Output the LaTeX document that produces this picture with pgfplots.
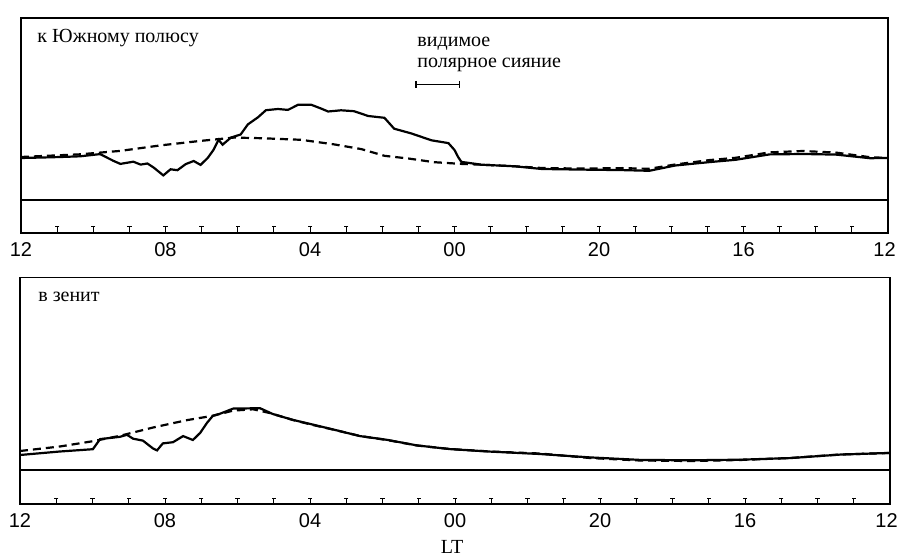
\documentclass[border=0pt]{standalone}
\usepackage{fontspec}
\setmainfont{Liberation Serif}
\newfontfamily\ticksans{Liberation Sans}
\usepackage{pgfplots}
\pgfplotsset{compat=1.18}
\begin{document}
\begin{tikzpicture}
\useasboundingbox (0pt,0pt) rectangle (899pt,557pt);
\pgfplotsset{
  panel/.style={
    scale only axis, xmin=0, xmax=24, clip=false,
    axis line style={line width=1.3pt},
    ytick=\empty,
    xtick={0,4,...,24}, xticklabels={12,08,04,00,20,16,\hspace*{-7pt}12},
    minor xtick={1,...,23},
    tick align=inside, xtick pos=bottom,
    major tick length=6pt, minor tick length=6pt,
    tick style={line width=1pt, black},
    xticklabel style={font=\ticksans\fontsize{20}{24}\selectfont, anchor=center, yshift=-17pt},
  },
  solidc/.style={line width=2.2pt, black, no markers},
  dashc/.style={line width=2.2pt, black, no markers, dash pattern=on 8pt off 5pt},
  basec/.style={line width=1.2pt, black, no markers},
  capc/.style={only marks, mark=-, mark size=2.2pt, mark options={line width=1pt, black}},
}
% ---------- top panel ----------
\begin{axis}[panel, at={(21pt,324pt)}, anchor=south west, width=867pt, height=215pt, ymin=0, ymax=215]
\addplot[basec] coordinates {(0,33) (24,33)};
\addplot[capc] coordinates {(1,6) (2,6) (3,6) (4,6) (5,6) (6,6) (7,6) (8,6) (9,6) (10,6) (11,6) (12,6)
(13,6) (14,6) (15,6) (16,6) (17,6) (18,6) (19,6) (20,6) (21,6) (22,6) (23,6)};
\addplot[solidc] coordinates {
(0,75) (0.6,75.5) (1.1,76) (1.64,76.7) (2.19,78.9) (2.56,72.1) (2.75,69.1) (3.11,71.3)
(3.31,68.4) (3.5,69.5) (3.67,65.5) (3.94,57.6) (4.14,63.7) (4.33,62.8) (4.56,68.9)
(4.78,72) (4.97,68.1) (5.17,75.1) (5.33,83.2) (5.47,93.3) (5.58,88.3) (5.81,95.4)
(6.08,98.5) (6.28,108.6) (6.56,115.7) (6.78,122.8) (7.11,124) (7.39,123.1) (7.67,128.2)
(8.03,128.3) (8.31,124.4) (8.5,121.5) (8.86,122.7) (9.22,121.8) (9.61,117) (10.06,115.2)
(10.33,104.3) (10.81,99.5) (11.36,92.7) (11.83,89.9) (12.0,83) (12.1,76) (12.19,71.1)
(12.75,68.3) (13.67,66.7) (14.42,64) (15.53,63.4) (16.64,62.9) (17.39,62.2) (18.11,67.5)
(19.06,70.9) (19.78,73.2) (20.72,78.6) (21.64,79) (22.56,78.4) (23.5,74.8) (24,75)};
\addplot[dashc] coordinates {
(0,76) (1.64,78.7) (2.75,82.1) (3.86,87.6) (4.97,92.1) (5.89,95.4) (6.64,94.8)
(7.75,93.2) (8.67,88.6) (9.42,83.9) (10.06,77.2) (10.72,74.5) (11.44,70.8) (12.19,69.1)
(12.75,68.3) (13.67,66.7) (14.42,65) (15.53,64.4) (16.64,64.9) (17.39,64.2) (18.11,68.5)
(19.06,72.9) (19.78,75.2) (20.72,80.6) (21.64,82) (22.56,80.4) (23.5,75.8) (24,75)};
\addplot[line width=1.5pt, black, mark=|, mark size=3.5pt, mark options={solid, line width=1.5pt}] coordinates {(10.94,148.5) (12.14,148.5)};
\node[anchor=west, inner sep=0, font=\fontsize{20}{24}\selectfont] at (axis cs:0.45,195) {к Южному полюсу};
\node[anchor=west, inner sep=0, font=\fontsize{20}{24}\selectfont] at (axis cs:10.97,189) {видимое};
\node[anchor=west, inner sep=0, font=\fontsize{20}{24}\selectfont] at (axis cs:10.97,168.5) {полярное сияние};
\end{axis}
% ---------- bottom panel ----------
\begin{axis}[panel, at={(20pt,53pt)}, anchor=south west, width=870pt, height=226.5pt, ymin=0, ymax=226.5]
\addplot[basec] coordinates {(0,34) (24,34)};
\addplot[capc] coordinates {(1,6) (2,6) (3,6) (4,6) (5,6) (6,6) (7,6) (8,6) (9,6) (10,6) (11,6) (12,6)
(13,6) (14,6) (15,6) (16,6) (17,6) (18,6) (19,6) (20,6) (21,6) (22,6) (23,6)};
\addplot[solidc] coordinates {
(0,49) (1.1,52.5) (2.01,54.8) (2.21,64.9) (2.76,67.2) (2.95,69.2) (3.12,65.3) (3.39,63.4)
(3.67,55.5) (3.78,53.6) (3.94,60.6) (4.22,61.8) (4.5,67.9) (4.77,64) (4.97,71.1)
(5.16,81.2) (5.32,88.2) (5.52,90.3) (5.88,95.4) (6.62,95.8) (6.98,89.9) (7.53,84.1)
(8.08,79.4) (8.63,74.6) (9.38,67.9) (10.12,64.2) (10.95,58.6) (11.86,54.9) (12.97,52.4)
(14.34,50) (15.72,46.6) (17.1,44.1) (18.48,43.7) (19.86,44.3) (21.24,45.9) (22.62,49.4)
(23.92,51) (24,51)};
\addplot[dashc] coordinates {
(0,53) (1.1,57.5) (2.01,62.8) (2.76,68.2) (3.67,76.5) (4.61,83.9) (5.32,88.2) (5.88,93.4)
(6.43,94.7) (6.9,90.9) (7.53,84) (8.08,79) (8.63,74.5) (9.38,68) (10.12,64) (10.95,58.5)
(11.86,55) (12.97,52.5) (14.34,50.5) (15.72,46) (17.1,43.5) (18.48,43) (19.86,44)
(21.24,46) (22.62,49.5) (24,51)};
\node[anchor=west, inner sep=0, font=\fontsize{20}{24}\selectfont] at (axis cs:0.5,207) {в зенит};
\node[anchor=center, inner sep=0, font=\fontsize{20}{24}\selectfont] at (axis cs:11.92,-43) {LT};
\end{axis}
\end{tikzpicture}
\end{document}
